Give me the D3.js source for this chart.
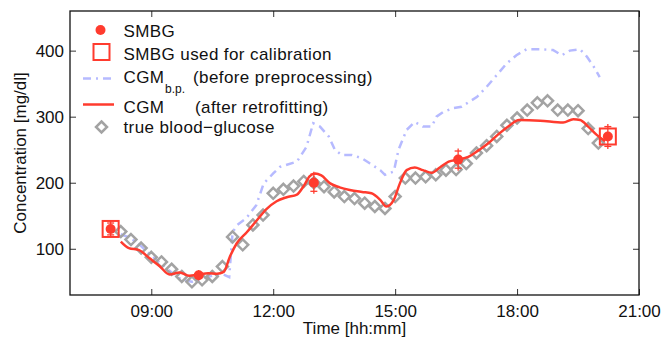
<!DOCTYPE html>
<html>
<head>
<meta charset="utf-8">
<style>
  body { margin: 0; background: #fff; }
  svg { display: block; font-family: "Liberation Sans", Arial, Helvetica, sans-serif; }
</style>
</head>
<body>
<div class="container"></div>
<script src="https://d3js.org/d3.v7.min.js"></script>
<script>
// ---- data ----
var smbgTime = ["08:00", "10:10", "13:00", "16:33", "20:14"];
var smbgValue = [130, 60, 200, 235, 270];
var smbgError = [9, 4, 13, 13, 15];
var calibrationIndex = [0, 4];

var cgmTime = ["08:15", "08:27", "08:42", "08:57", "09:12", "09:27", "09:42", "09:56", "10:10", "10:24",
               "10:37", "10:47", "10:56", "11:06", "11:21", "11:35", "11:50", "12:05", "12:20", "12:35",
               "12:45", "12:54", "13:02", "13:11", "13:24", "13:38", "13:53", "14:11", "14:25", "14:38",
               "14:47", "14:58", "15:07", "15:17", "15:29", "15:41", "15:54", "16:06", "16:19", "16:33",
               "16:48", "17:03", "17:18", "17:33", "17:48", "18:03", "18:34", "19:08", "19:23", "19:33",
               "19:45", "19:58", "20:10"];
var cgmValue = [111, 101, 98, 86, 74, 61, 64, 59, 61, 63,
                62, 65, 88, 108, 125, 142, 160, 172, 178, 182,
                195, 210, 214, 211, 199, 193, 189, 186, 184, 174,
                164, 174, 199, 219, 223, 219, 215, 223, 232, 235,
                239, 249, 260, 274, 286, 295, 294, 291, 296, 295,
                285, 272, 263];

var cgmBpTime = ["08:15", "08:30", "08:45", "09:00", "09:15", "09:30", "09:45", "10:00", "10:15", "10:30",
                 "10:45", "10:55", "11:00", "11:07", "11:20", "11:35", "11:46", "12:00", "12:10", "12:35",
                 "12:49", "12:59", "13:09", "13:22", "13:31", "13:41", "13:56", "14:11", "14:23", "14:38",
                 "14:45", "14:58", "15:05", "15:17", "15:29", "15:41", "15:54", "16:01", "16:11", "16:26",
                 "16:38", "16:50", "17:01", "17:15", "17:30", "17:45", "17:59", "18:14", "18:34", "18:53",
                 "19:06", "19:18", "19:33", "19:43", "19:53", "20:02"];
var cgmBpValue = [122, 116, 104, 90, 77, 64, 53, 50, 55, 59,
                  62, 57, 125, 136, 146, 166, 199, 214, 224, 232,
                  254, 290, 285, 270, 250, 242, 242, 237, 229, 219,
                  212, 217, 250, 280, 292, 285, 285, 300, 307, 313,
                  315, 323, 330, 345, 363, 381, 393, 402, 402, 401,
                  393, 400, 402, 391, 376, 360];

var trueTime = ["08:15", "08:30", "08:45", "09:00", "09:15", "09:30", "09:45", "10:00", "10:15", "10:30",
                "10:45", "11:00", "11:15", "11:30", "11:45", "12:00", "12:15", "12:30", "12:45", "13:00",
                "13:15", "13:30", "13:45", "14:00", "14:15", "14:30", "14:45", "15:00", "15:15", "15:30",
                "15:45", "16:00", "16:15", "16:30", "16:45", "17:00", "17:15", "17:30", "17:45", "18:00",
                "18:15", "18:30", "18:45", "19:00", "19:15", "19:30", "19:45", "20:00"];
var trueValue = [126, 114, 101, 87, 80, 69, 58, 50, 53, 58,
                 73, 118, 106, 136, 151, 184, 190, 195, 202, 200,
                 194, 186, 179, 176, 169, 164, 161, 179, 207, 207,
                 209, 212, 219, 220, 229, 245, 256, 270, 287, 298,
                 310, 321, 324, 310, 310, 309, 282, 260];

var xTicks = ["09:00", "12:00", "15:00", "18:00", "21:00"];
var yTicks = [100, 200, 300, 400];

// ---- setup ----
var W = 664, H = 338;
var RED = "#ff3b2e", BLUE = "#b6baff", GRAY = "#a3a3a3";

function mins(s) { var p = s.split(":"); return +p[0] * 60 + +p[1]; }
function fmt(m) { return d3.format("02d")(Math.floor(m / 60)) + ":" + d3.format("02d")(m % 60); }

var x = d3.scaleLinear().domain([mins("07:00"), mins("21:00")]).range([70, 639]);
var y = d3.scaleLinear().domain([30, 460]).range([295, 11]);

var svg = d3.select('.container').append('svg').attr('width', W).attr('height', H);

var line = d3.line().x(function(d) { return x(d[0]); }).y(function(d) { return y(d[1]); });

// CGM before preprocessing
var bp = d3.zip(cgmBpTime.map(mins), cgmBpValue);
svg.append('path')
   .attr('d', line(bp))
   .attr('fill', 'none')
   .attr('stroke', BLUE)
   .attr('stroke-width', 2.5)
   .attr('stroke-dasharray', '8,5,2,5');

// true blood glucose diamonds
function diamond(r) { return "M0," + (-r) + "L" + r + ",0L0," + r + "L" + (-r) + ",0Z"; }
svg.append('g').selectAll('path')
   .data(d3.zip(trueTime.map(mins), trueValue))
   .join('path')
   .attr('d', diamond(5.5))
   .attr('transform', function(d) { return "translate(" + x(d[0]) + "," + y(d[1]) + ")"; })
   .attr('fill', 'none')
   .attr('stroke', GRAY)
   .attr('stroke-width', 2.5);

// CGM after retrofitting
var cgm = d3.zip(cgmTime.map(mins), cgmValue);
svg.append('path')
   .attr('d', line.curve(d3.curveMonotoneX)(cgm))
   .attr('fill', 'none')
   .attr('stroke', RED)
   .attr('stroke-width', 2.5);

// SMBG with error bars
var smbg = smbgTime.map(function(t, i) { return { t: mins(t), v: smbgValue[i], e: smbgError[i], i: i }; });
var eb = svg.append('g').attr('stroke', RED).attr('stroke-width', 1.3);
smbg.forEach(function(d) {
  var top = y(d.v + d.e), bot = y(d.v - d.e), cx = x(d.t);
  eb.append('line').attr('x1', cx).attr('x2', cx).attr('y1', top - 2.5).attr('y2', bot + 2.5);
  eb.append('line').attr('x1', cx - 3.5).attr('x2', cx + 3.5).attr('y1', top).attr('y2', top);
  eb.append('line').attr('x1', cx - 3.5).attr('x2', cx + 3.5).attr('y1', bot).attr('y2', bot);
});
svg.append('g').selectAll('circle')
   .data(smbg)
   .join('circle')
   .attr('cx', function(d) { return x(d.t); })
   .attr('cy', function(d) { return y(d.v); })
   .attr('r', 5)
   .attr('fill', RED);
svg.append('g').selectAll('rect')
   .data(calibrationIndex.map(function(i) { return smbg[i]; }))
   .join('rect')
   .attr('x', function(d) { return x(d.t) - 8; })
   .attr('y', function(d) { return y(d.v) - 8; })
   .attr('width', 16).attr('height', 16)
   .attr('fill', 'none')
   .attr('stroke', RED)
   .attr('stroke-width', 2);

// ---- axes / box ----
var xt = xTicks.map(mins);
svg.append('g').attr('transform', 'translate(0,295)')
   .call(d3.axisBottom(x).tickValues(xt).tickFormat(fmt).tickSizeInner(-6).tickSizeOuter(0).tickPadding(10));
svg.append('g').attr('transform', 'translate(0,11)')
   .call(d3.axisTop(x).tickValues(xt).tickFormat('').tickSizeInner(-6).tickSizeOuter(0));
svg.append('g').attr('transform', 'translate(70,0)')
   .call(d3.axisLeft(y).tickValues(yTicks).tickSizeInner(-6).tickSizeOuter(0).tickPadding(6));
svg.append('g').attr('transform', 'translate(639,0)')
   .call(d3.axisRight(y).tickValues(yTicks).tickFormat('').tickSizeInner(-6).tickSizeOuter(0));
svg.selectAll('.domain').remove();
svg.selectAll('.tick line').attr('stroke', '#333');
svg.selectAll('.tick text').attr('font-size', 17).attr('fill', '#111')
   .attr('font-family', '"Liberation Sans", Arial, Helvetica, sans-serif');
svg.append('rect').attr('x', 70).attr('y', 11).attr('width', 569).attr('height', 284)
   .attr('fill', 'none').attr('stroke', '#111').attr('stroke-width', 1.3);

svg.append('text').attr('x', 354.5).attr('y', 334).attr('text-anchor', 'middle')
   .attr('font-size', 17).attr('fill', '#111').text('Time [hh:mm]');
svg.append('text').attr('transform', 'translate(26,153) rotate(-90)').attr('text-anchor', 'middle')
   .attr('font-size', 17).attr('fill', '#111').text('Concentration [mg/dl]');

// ---- legend ----
var lg = svg.append('g').attr('font-size', 17).attr('fill', '#111').attr('letter-spacing', 0.4);
lg.append('circle').attr('cx', 100.5).attr('cy', 30).attr('r', 5).attr('fill', RED);
lg.append('text').attr('x', 123.5).attr('y', 37).text('SMBG');
lg.append('rect').attr('x', 93.5).attr('y', 44).attr('width', 16).attr('height', 16)
  .attr('fill', 'none').attr('stroke', RED).attr('stroke-width', 2);
lg.append('text').attr('x', 123.5).attr('y', 59.5).text('SMBG used for calibration');
lg.append('line').attr('x1', 83).attr('x2', 114).attr('y1', 78.5).attr('y2', 78.5)
  .attr('stroke', BLUE).attr('stroke-width', 2.5).attr('stroke-dasharray', '8,5,2,5');
lg.append('text').attr('x', 123.5).attr('y', 82.5).text('CGM');
lg.append('text').attr('x', 165).attr('y', 93).attr('font-size', 12).attr('letter-spacing', 0).text('b.p.');
lg.append('text').attr('x', 193).attr('y', 82.5).text('(before preprocessing)');
lg.append('line').attr('x1', 83).attr('x2', 114).attr('y1', 104.5).attr('y2', 104.5)
  .attr('stroke', RED).attr('stroke-width', 2.5);
lg.append('text').attr('x', 123.5).attr('y', 112.5).text('CGM');
lg.append('text').attr('x', 195).attr('y', 112.5).text('(after retrofitting)');
lg.append('path').attr('d', diamond(5.5)).attr('transform', 'translate(101.5,127)')
  .attr('fill', 'none').attr('stroke', GRAY).attr('stroke-width', 2.5);
lg.append('text').attr('x', 123.5).attr('y', 133).text('true blood\u2212glucose');
</script>
</body>
</html>
